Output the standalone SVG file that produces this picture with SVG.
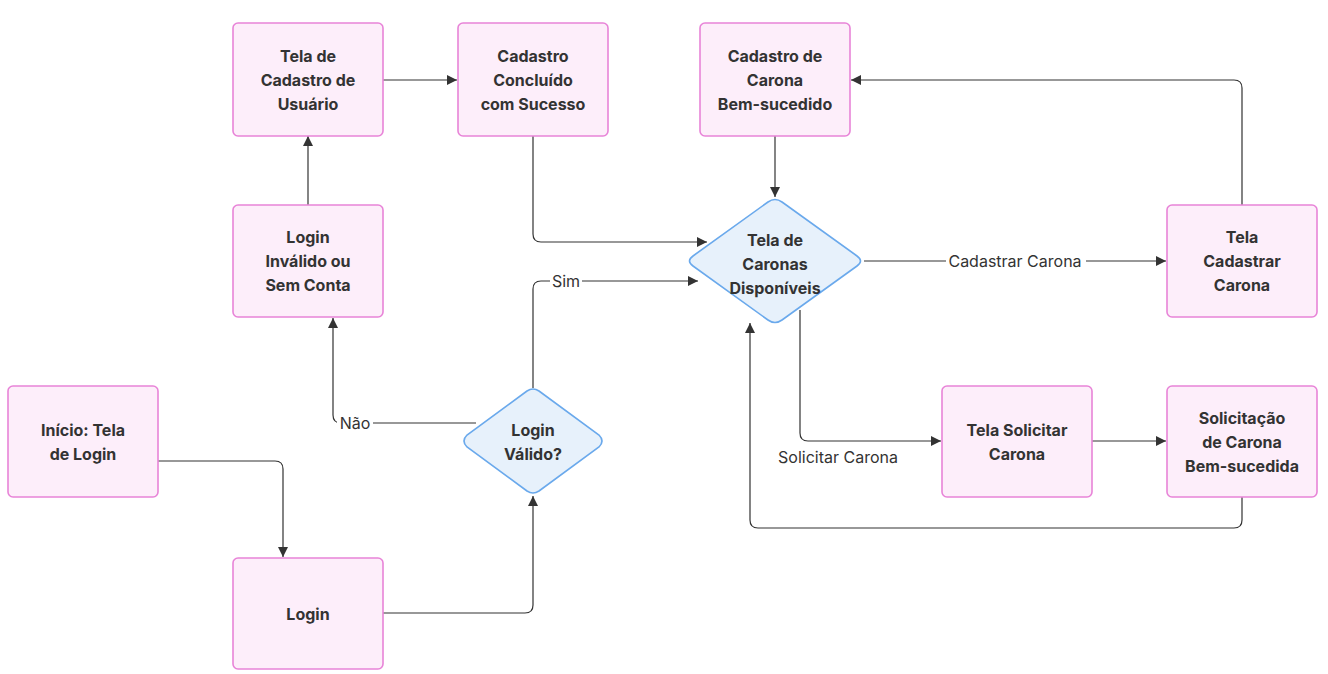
<svg xmlns="http://www.w3.org/2000/svg" width="1328" height="674" viewBox="0 0 1328 674">
<defs>
<style>
.node{fill:#fdeefa;stroke:#e884d8;stroke-width:1.6}
.dec{fill:#e7f1fb;stroke:#6aa9ec;stroke-width:1.6}
.t{font-family:Inter,"Liberation Sans",sans-serif;font-weight:700;font-size:16px;fill:#333;text-anchor:middle;dominant-baseline:central}
.e{fill:none;stroke:#333;stroke-width:1.2}
.lbl{font-family:Inter,"Liberation Sans",sans-serif;font-size:16px;fill:#333;text-anchor:middle;dominant-baseline:central}
.lb{fill:#fff}
</style>
<marker id="arr" viewBox="0 0 10 10" refX="10" refY="5" markerWidth="10" markerHeight="10" markerUnits="userSpaceOnUse" orient="auto">
<path d="M0,0 L10,5 L0,10 z" fill="#333"/>
</marker>
</defs>
<rect width="1328" height="674" fill="#fff"/>
<g id="connectors">
<path class="e" marker-end="url(#arr)" d="M158,461 H275 Q283,461 283,469 V557"/>
<path class="e" marker-end="url(#arr)" d="M383,613 H525 Q533,613 533,605 V496"/>
<path class="e" marker-end="url(#arr)" d="M476,423 H341 Q333,423 333,415 V318"/>
<path class="e" marker-end="url(#arr)" d="M533,388 V289 Q533,281 541,281 H698"/>
<path class="e" marker-end="url(#arr)" d="M308,205 V136"/>
<path class="e" marker-end="url(#arr)" d="M383,80 H457"/>
<path class="e" marker-end="url(#arr)" d="M533,136 V234 Q533,242 541,242 H707"/>
<path class="e" marker-end="url(#arr)" d="M775,136 V197"/>
<path class="e" marker-end="url(#arr)" d="M864,261 H1166"/>
<path class="e" marker-end="url(#arr)" d="M1242,205 V88 Q1242,80 1234,80 H851"/>
<path class="e" marker-end="url(#arr)" d="M800,310 V433 Q800,441 808,441 H941"/>
<path class="e" marker-end="url(#arr)" d="M1092,441 H1166"/>
<path class="e" marker-end="url(#arr)" d="M1242,497 V520 Q1242,528 1234,528 H758 Q750,528 750,520 V323"/>
<rect class="lb" x="337" y="413" width="36" height="20"/>
<text class="lbl" x="355" y="423">Não</text>
<rect class="lb" x="550" y="271" width="32" height="20"/>
<text class="lbl" x="566" y="281">Sim</text>
<rect class="lb" x="946" y="251" width="140" height="20"/>
<text class="lbl" x="1015" y="261">Cadastrar Carona</text>
<text class="lbl" x="838" y="457">Solicitar Carona</text>
</g>
<g id="inicio">
<rect class="node" x="8" y="386" width="150" height="111" rx="5"/>
<text class="t" x="83" y="430">Início: Tela</text>
<text class="t" x="83" y="454">de Login</text>
</g>
<g id="login">
<rect class="node" x="233" y="558" width="150" height="111" rx="5"/>
<text class="t" x="308" y="614">Login</text>
</g>
<g id="login-valido">
<path class="dec" d="M539,391 L599,435 Q605,441 599,447 L539,491 Q533,495 527,491 L467,447 Q461,441 467,435 L527,391 Q533,387 539,391 Z"/>
<text class="t" x="533" y="430">Login</text>
<text class="t" x="533" y="454">Válido?</text>
</g>
<g id="login-invalido">
<rect class="node" x="233" y="205" width="150" height="112" rx="5"/>
<text class="t" x="308" y="237">Login</text>
<text class="t" x="308" y="261">Inválido ou</text>
<text class="t" x="308" y="285">Sem Conta</text>
</g>
<g id="tela-cadastro-usuario">
<rect class="node" x="233" y="23" width="150" height="113" rx="5"/>
<text class="t" x="308" y="56">Tela de</text>
<text class="t" x="308" y="80">Cadastro de</text>
<text class="t" x="308" y="104">Usuário</text>
</g>
<g id="cadastro-concluido">
<rect class="node" x="458" y="23" width="150" height="113" rx="5"/>
<text class="t" x="533" y="56">Cadastro</text>
<text class="t" x="533" y="80">Concluído</text>
<text class="t" x="533" y="104">com Sucesso</text>
</g>
<g id="cadastro-carona-ok">
<rect class="node" x="700" y="23" width="150" height="113" rx="5"/>
<text class="t" x="775" y="56">Cadastro de</text>
<text class="t" x="775" y="80">Carona</text>
<text class="t" x="775" y="104">Bem-sucedido</text>
</g>
<g id="tela-caronas">
<path class="dec" d="M782,202 L857,256 Q864,261 857,266 L782,320 Q775,325 768,320 L693,266 Q686,261 693,256 L768,202 Q775,197 782,202 Z"/>
<text class="t" x="775" y="240">Tela de</text>
<text class="t" x="775" y="264">Caronas</text>
<text class="t" x="775" y="288">Disponíveis</text>
</g>
<g id="tela-cadastrar-carona">
<rect class="node" x="1167" y="205" width="150" height="112" rx="5"/>
<text class="t" x="1242" y="237">Tela</text>
<text class="t" x="1242" y="261">Cadastrar</text>
<text class="t" x="1242" y="285">Carona</text>
</g>
<g id="tela-solicitar">
<rect class="node" x="942" y="386" width="150" height="111" rx="5"/>
<text class="t" x="1017" y="430">Tela Solicitar</text>
<text class="t" x="1017" y="454">Carona</text>
</g>
<g id="solicitacao-ok">
<rect class="node" x="1167" y="386" width="150" height="111" rx="5"/>
<text class="t" x="1242" y="418">Solicitação</text>
<text class="t" x="1242" y="442">de Carona</text>
<text class="t" x="1242" y="466">Bem-sucedida</text>
</g>
</svg>
